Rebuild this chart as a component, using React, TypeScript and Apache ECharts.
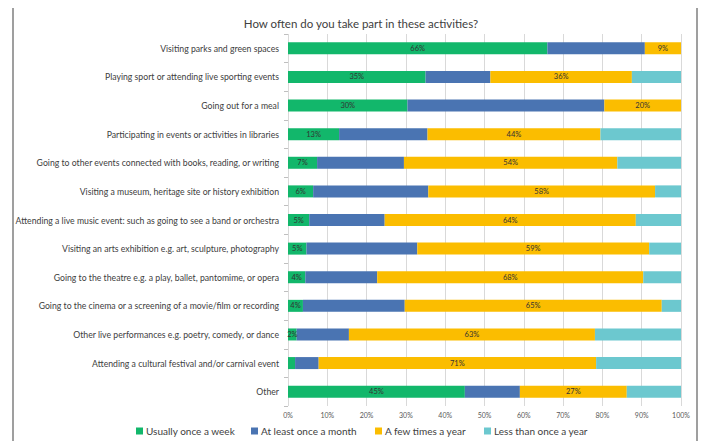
import React, { useEffect, useRef } from "react";
import * as echarts from "echarts";

const categories = [
  "Visiting parks and green spaces",
  "Playing sport or attending live sporting events",
  "Going out for a meal",
  "Participating in events or activities in libraries",
  "Going to other events connected with books, reading, or writing",
  "Visiting a museum, heritage site or history exhibition",
  "Attending a live music event: such as going to see a band or orchestra",
  "Visiting an arts exhibition e.g. art, sculpture, photography",
  "Going to the theatre e.g. a play, ballet, pantomime, or opera",
  "Going to the cinema or a screening of a movie/film or recording",
  "Other live performances e.g. poetry, comedy, or dance",
  "Attending a cultural festival and/or carnival event",
  "Other",
];

const seriesNames = [
  "Usually once a week",
  "At least once a month",
  "A few times a year",
  "Less than once a year",
];

const weekly = [66, 35, 30.4, 13, 7.4, 6.4, 5.4, 4.7, 4.4, 3.8, 2.2, 1.8, 45];
const monthly = [24.8, 16.5, 50.1, 22.5, 22.1, 29.3, 19.2, 28.2, 18.3, 25.9, 13.3, 6.0, 14];
const yearly = [9.2, 36, 19.5, 44, 54.3, 57.7, 63.9, 59, 67.7, 65.4, 62.6, 70.6, 27.2];
const lessThanYearly = [0, 12.5, 0, 20.5, 16.2, 6.6, 11.5, 8.1, 9.6, 4.9, 21.9, 21.6, 13.8];

const xTicks = [0, 10, 20, 30, 40, 50, 60, 70, 80, 90, 100];

const colors = ["#12b76b", "#4a74b2", "#fbbd00", "#6cc8cf"];

export default function App() {
  const ref = useRef<HTMLDivElement>(null);

  useEffect(() => {
    if (!ref.current) return;
    const chart = echarts.init(ref.current, undefined, { renderer: "svg" });
    const labelFmt = (p: any) => (p.value >= 2 ? Math.round(p.value) + "%" : "");
    const values = [weekly, monthly, yearly, lessThanYearly];
    const showLabel = [true, false, true, false];
    const legendLefts = [131, 246, 370, 479];
    chart.setOption({
      animation: false,
      title: {
        text: "How often do you take part in these activities?",
        left: 356,
        textAlign: "center",
        top: 12,
        textStyle: { fontSize: 11.5, fontWeight: "normal", color: "#404040", fontFamily: "Lato" },
      },
      legend: seriesNames.map((n, i) => ({
        data: [n],
        left: legendLefts[i],
        top: 421,
        icon: "rect",
        itemWidth: 7,
        itemHeight: 7,
        itemGap: 0,
        textStyle: { fontSize: 10, color: "#404040", fontFamily: "Lato", padding: [0, 0, 0, -2] },
      })),
      grid: { left: 288, right: 22, top: 34, bottom: 35, containLabel: false },
      xAxis: {
        type: "value",
        min: xTicks[0],
        max: xTicks[xTicks.length - 1],
        interval: 10,
        axisLine: { show: false },
        axisTick: { show: false },
        splitLine: { show: true, lineStyle: { color: "#d9d9d9", width: 1 } },
        axisLabel: {
          formatter: "{value}%",
          fontSize: 7,
          color: "#595959",
          margin: 5,
          fontFamily: "Lato",
        },
      },
      yAxis: {
        type: "category",
        data: categories,
        inverse: true,
        axisLine: { show: false },
        axisTick: { show: true, length: 4, lineStyle: { color: "#bfbfbf" } },
        axisLabel: { fontSize: 8.7, color: "#404040", margin: 9, fontFamily: "Lato" },
      },
      series: seriesNames.map((n, i) => ({
        name: n,
        type: "bar",
        stack: "total",
        barWidth: 12,
        data: values[i],
        itemStyle: { color: colors[i] },
        label: {
          show: showLabel[i],
          position: "inside",
          formatter: labelFmt,
          fontSize: 7.5,
          color: "#333",
          fontFamily: "Lato",
        },
      })),
      graphic: [
        { type: "line", shape: { x1: 13, y1: 8, x2: 13, y2: 441 }, style: { stroke: "#7f7f7f", lineWidth: 1.5 } },
        { type: "line", shape: { x1: 697, y1: 8, x2: 697, y2: 441 }, style: { stroke: "#7f7f7f", lineWidth: 1.5 } },
      ],
    });
    return () => chart.dispose();
  }, []);

  return (
    <div
      ref={ref}
      style={{ position: "absolute", left: 0, top: 0, width: 703, height: 441, background: "#fff" }}
    />
  );
}
